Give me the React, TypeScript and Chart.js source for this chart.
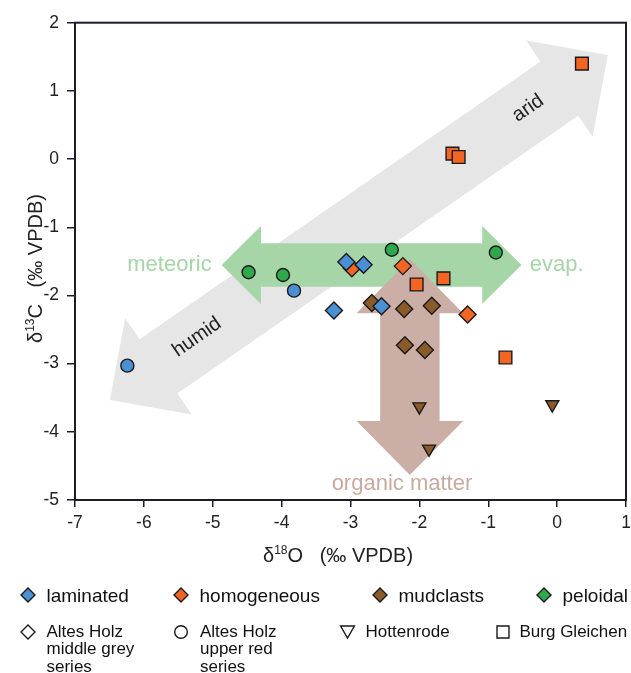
import React, { useEffect, useRef } from "react";
import { Chart, registerables } from "chart.js";
Chart.register(...registerables);

// ---- axis ticks ----
const X_MIN = -7;
const X_MAX = 1;
const Y_MIN = -5;
const Y_MAX = 2;

// ---- series (δ18O, δ13C) ----
const lamGreyX = [-3.06, -2.81, -2.55, -3.24];
const lamGreyY = [-1.51, -1.55, -2.16, -2.22];
const lamRedX = [-6.24, -3.82];
const lamRedY = [-3.03, -1.93];
const pelRedX = [-4.48, -3.98, -2.40, -0.89];
const pelRedY = [-1.66, -1.70, -1.33, -1.37];
const homGreyX = [-2.98, -2.24, -1.30];
const homGreyY = [-1.60, -1.57, -2.28];
const homBurgX = [0.36, -1.52, -1.43, -2.04, -1.65, -0.75];
const homBurgY = [1.40, 0.08, 0.03, -1.84, -1.75, -2.91];
const mudGreyX = [-2.69, -2.22, -1.82, -2.21, -1.92];
const mudGreyY = [-2.11, -2.20, -2.15, -2.73, -2.80];
const mudHotX = [-2.00, -1.86, -0.07];
const mudHotY = [-3.63, -4.25, -3.60];

// ---- legend ----
const FACIES = ["laminated", "homogeneous", "mudclasts", "peloidal"];
const FACIES_COLORS = ["#4b8fd4", "#f26522", "#8b5a2b", "#2ea84c"];
const LOCALITIES = [
  ["Altes Holz", "middle grey", "series"],
  ["Altes Holz", "upper red", "series"],
  ["Hottenrode"],
  ["Burg Gleichen"],
];
const LOCALITY_SHAPES = ["diamond", "circle", "triangle", "square"];

// ---- annotations (arrows in data units) ----
const ARROWS = [
  { from: [-6.492, -3.532], to: [0.736, 1.526], shaft: 33, head: 58.5, len: 59, color: "#e6e6e6" },
  { from: [-4.871, -1.553], to: [-0.517, -1.553], shaft: 21.7, head: 39, len: 39.3, color: "#a6d5a8" },
  { from: [-2.138, -1.469], to: [-2.138, -4.632], shaft: 29.7, head: 53.3, len: 54, color: "#cbafa6" },
];
const LABELS = [
  { text: "arid", at: [-0.421, 0.745], color: "#222", size: 20, align: "center", rotate: true, baseline: "middle" },
  { text: "humid", at: [-5.229, -2.613], color: "#222", size: 20, align: "center", rotate: true, baseline: "middle" },
  { text: "meteoric", at: [-5.016, -1.641], color: "#a6d5a8", size: 22, align: "right", rotate: false, baseline: "alphabetic" },
  { text: "evap.", at: [-0.396, -1.641], color: "#a6d5a8", size: 22, align: "left", rotate: false, baseline: "alphabetic" },
  { text: "organic matter", at: [-3.274, -4.852], color: "#c9aaa1", size: 22, align: "left", rotate: false, baseline: "alphabetic" },
];

const FONT = "'Liberation Sans', Arial, Helvetica, sans-serif";
const AXIS = "#1c1c2a";
const EDGE = "#1a1a1a";

const pts = (xs: number[], ys: number[]) => xs.map((x, i) => ({ x, y: ys[i] }));

function arrowPath(ctx: CanvasRenderingContext2D, x1: number, y1: number, x2: number, y2: number, sh: number, hh: number, hl: number) {
  const dx = x2 - x1, dy = y2 - y1;
  const L = Math.hypot(dx, dy);
  const ux = dx / L, uy = dy / L;
  const px = -uy, py = ux;
  const b1x = x1 + ux * hl, b1y = y1 + uy * hl;
  const b2x = x2 - ux * hl, b2y = y2 - uy * hl;
  ctx.beginPath();
  ctx.moveTo(x1, y1);
  ctx.lineTo(b1x + px * hh, b1y + py * hh);
  ctx.lineTo(b1x + px * sh, b1y + py * sh);
  ctx.lineTo(b2x + px * sh, b2y + py * sh);
  ctx.lineTo(b2x + px * hh, b2y + py * hh);
  ctx.lineTo(x2, y2);
  ctx.lineTo(b2x - px * hh, b2y - py * hh);
  ctx.lineTo(b2x - px * sh, b2y - py * sh);
  ctx.lineTo(b1x - px * sh, b1y - py * sh);
  ctx.lineTo(b1x - px * hh, b1y - py * hh);
  ctx.closePath();
}

function shape(ctx: CanvasRenderingContext2D, kind: string, x: number, y: number, r: number, fill: string | null) {
  ctx.beginPath();
  if (kind === "diamond") {
    ctx.moveTo(x - r, y); ctx.lineTo(x, y - r); ctx.lineTo(x + r, y); ctx.lineTo(x, y + r); ctx.closePath();
  } else if (kind === "circle") {
    ctx.arc(x, y, r, 0, Math.PI * 2);
  } else if (kind === "triangle") {
    const h = r * 1.5;
    ctx.moveTo(x - r * 0.866, y - h / 2); ctx.lineTo(x + r * 0.866, y - h / 2); ctx.lineTo(x, y + h / 2); ctx.closePath();
  } else {
    ctx.rect(x - r, y - r, 2 * r, 2 * r);
  }
  if (fill) { ctx.fillStyle = fill; ctx.fill(); }
  ctx.lineWidth = 1.4;
  ctx.strokeStyle = EDGE;
  ctx.stroke();
}

function richText(ctx: CanvasRenderingContext2D, parts: { t: string; sup?: boolean }[], size: number) {
  let x = 0;
  for (const p of parts) {
    const s = p.sup ? Math.round(size * 0.62) : size;
    ctx.font = `${s}px ${FONT}`;
    ctx.fillText(p.t, x, p.sup ? -size * 0.36 : 0);
    x += ctx.measureText(p.t).width;
  }
}

const decor = {
  id: "decor",
  beforeDatasetsDraw(chart: any) {
    const { ctx, scales } = chart;
    const xs = scales.x, ys = scales.y;
    ctx.save();
    for (const a of ARROWS) {
      arrowPath(ctx, xs.getPixelForValue(a.from[0]), ys.getPixelForValue(a.from[1]), xs.getPixelForValue(a.to[0]), ys.getPixelForValue(a.to[1]), a.shaft, a.head, a.len);
      ctx.fillStyle = a.color;
      ctx.fill();
    }
    const g = ARROWS[0];
    const ang = Math.atan2(ys.getPixelForValue(g.to[1]) - ys.getPixelForValue(g.from[1]), xs.getPixelForValue(g.to[0]) - xs.getPixelForValue(g.from[0]));
    for (const l of LABELS) {
      ctx.save();
      ctx.translate(xs.getPixelForValue(l.at[0]), ys.getPixelForValue(l.at[1]));
      if (l.rotate) ctx.rotate(ang);
      ctx.font = `${l.size}px ${FONT}`;
      ctx.fillStyle = l.color;
      ctx.textAlign = l.align as CanvasTextAlign;
      ctx.textBaseline = l.baseline as CanvasTextBaseline;
      ctx.fillText(l.text, 0, 0);
      ctx.restore();
    }
    ctx.restore();
  },
  afterDraw(chart: any) {
    const { ctx, chartArea: ca } = chart;
    ctx.save();
    // frame
    ctx.strokeStyle = AXIS;
    ctx.lineWidth = 2;
    ctx.strokeRect(ca.left, ca.top, ca.right - ca.left, ca.bottom - ca.top);
    // axis titles
    ctx.fillStyle = "#222";
    ctx.textAlign = "left";
    ctx.textBaseline = "alphabetic";
    ctx.save();
    ctx.translate(263, 561.5);
    richText(ctx, [{ t: "δ" }, { t: "18", sup: true }, { t: "O   (‰ VPDB)" }], 20);
    ctx.restore();
    ctx.save();
    ctx.translate(41.5, 343);
    ctx.rotate(-Math.PI / 2);
    richText(ctx, [{ t: "δ" }, { t: "13", sup: true }, { t: "C   (‰ VPDB)" }], 20);
    ctx.restore();
    // legend row 1
    const fx = [28, 181, 380, 544];
    FACIES.forEach((f, i) => {
      shape(ctx, "diamond", fx[i], 595, 7, FACIES_COLORS[i]);
      ctx.fillStyle = "#111";
      ctx.font = `19px ${FONT}`;
      ctx.fillText(f, fx[i] + 18.5, 601.7);
    });
    // legend row 2
    const lx = [28, 181, 347.5, 503];
    const tx = [46.5, 200, 365.5, 519.5];
    LOCALITIES.forEach((lines, i) => {
      const k = LOCALITY_SHAPES[i];
      const r = k === "diamond" ? 7 : k === "circle" ? 6.3 : k === "triangle" ? 8 : 6;
      shape(ctx, k, lx[i], 632, r, "#fff");
      ctx.fillStyle = "#111";
      ctx.font = `17px ${FONT}`;
      lines.forEach((ln, j) => ctx.fillText(ln, tx[i], 636.5 + j * 17.8));
    });
    ctx.restore();
  },
};

export default function App() {
  const ref = useRef<HTMLCanvasElement | null>(null);
  useEffect(() => {
    document.body.style.margin = "0";
    const mk = (label: string, xs: number[], ys: number[], color: string, style: string, radius: number, rotation = 0) => ({
      label,
      data: pts(xs, ys),
      backgroundColor: color,
      borderColor: EDGE,
      borderWidth: 1.4,
      pointStyle: style,
      pointRadius: radius,
      pointHoverRadius: radius,
      rotation,
      showLine: false,
    });
    const chart = new Chart(ref.current as HTMLCanvasElement, {
      type: "scatter",
      data: {
        datasets: [
          mk("laminated – Altes Holz middle grey", lamGreyX, lamGreyY, FACIES_COLORS[0], "rectRot", 8.5),
          mk("laminated – Altes Holz upper red", lamRedX, lamRedY, FACIES_COLORS[0], "circle", 6.5),
          mk("peloidal – Altes Holz upper red", pelRedX, pelRedY, FACIES_COLORS[3], "circle", 6.5),
          mk("homogeneous – Altes Holz middle grey", homGreyX, homGreyY, FACIES_COLORS[1], "rectRot", 8.5),
          mk("homogeneous – Burg Gleichen", homBurgX, homBurgY, FACIES_COLORS[1], "rect", 9),
          mk("mudclasts – Altes Holz middle grey", mudGreyX, mudGreyY, FACIES_COLORS[2], "rectRot", 8.5),
          mk("mudclasts – Hottenrode", mudHotX, mudHotY, FACIES_COLORS[2], "triangle", 7.5, 180),
        ],
      },
      options: {
        animation: false,
        responsive: false,
        maintainAspectRatio: false,
        layout: { autoPadding: false, padding: { top: 22.7, right: 5, left: 0, bottom: 133 } },
        plugins: { legend: { display: false }, tooltip: { enabled: false } },
        scales: {
          x: {
            type: "linear",
            min: X_MIN,
            max: X_MAX,
            afterFit: (s: any) => { s.height = 40; s.paddingRight = 0; s.paddingLeft = 0; },
            ticks: { stepSize: 1, color: "#222", font: { size: 17.5, family: FONT }, padding: 6 },
            grid: { drawOnChartArea: false, drawTicks: true, tickLength: 7, color: AXIS, lineWidth: 1.5 },
            border: { display: true, color: AXIS, width: 2 },
          },
          y: {
            type: "linear",
            min: Y_MIN,
            max: Y_MAX,
            afterFit: (s: any) => { s.width = 75; s.paddingTop = 0; s.paddingBottom = 0; },
            ticks: { stepSize: 1, color: "#222", font: { size: 17.5, family: FONT }, padding: 8 },
            grid: { drawOnChartArea: false, drawTicks: true, tickLength: 8, color: AXIS, lineWidth: 1.5 },
            border: { display: true, color: AXIS, width: 2 },
          },
        },
      },
      plugins: [decor],
    } as any);
    return () => chart.destroy();
  }, []);
  return (
    <div style={{ width: 631, height: 673, background: "#fff" }}>
      <canvas ref={ref} width={631} height={673} style={{ display: "block" }} />
    </div>
  );
}
